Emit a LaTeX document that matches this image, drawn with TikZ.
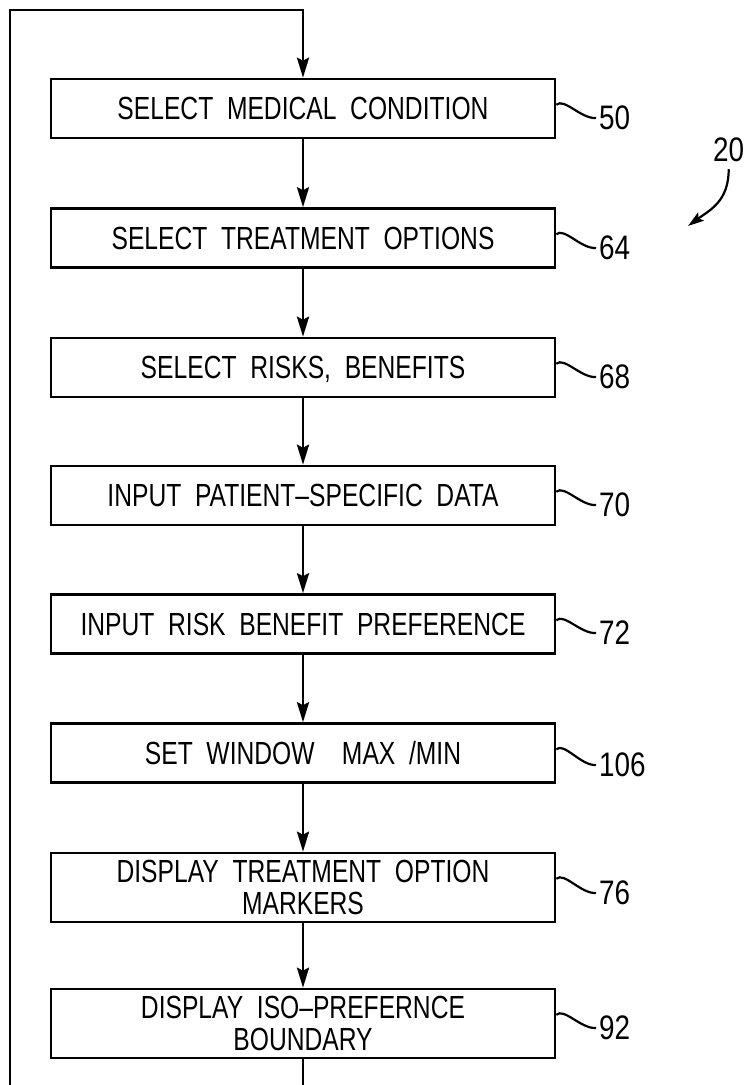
\documentclass[tikz,border=0pt]{standalone}
\usepackage{fontspec}
\usetikzlibrary{arrows.meta}
\newfontfamily\boxfont[FakeStretch=0.77,WordSpace=2]{Liberation Sans}
\newfontfamily\reffont[FakeStretch=0.82]{Liberation Sans}
\tikzset{
  stepbox/.style={draw, line width=2.6pt, minimum width=504pt, minimum height=59pt,
    inner sep=0pt, text depth=0pt, align=center,
    font=\boxfont\fontsize{32}{32}\selectfont},
  tallbox/.style={stepbox, minimum height=69pt},
  refnum/.style={anchor=west, inner sep=3pt, font=\reffont\fontsize{34}{36}\selectfont},
  flow/.style={line width=2.8pt, -{Stealth[length=20pt,width=12pt,inset=3pt]}},
  lead/.style={line width=2.2pt},
}
\begin{document}
\begin{tikzpicture}[x=1pt,y=-1pt]
	\useasboundingbox (0,0) rectangle (744,1085);

	% steps
	\node[stepbox] (condition) at (303,108.5) {SELECT MEDICAL CONDITION};
	\node[stepbox] (options) at (303,238) {SELECT TREATMENT OPTIONS};
	\node[stepbox] (risks) at (303,367.5) {SELECT RISKS, BENEFITS};
	\node[stepbox] (patient) at (303,495.5) {INPUT PATIENT–SPECIFIC DATA};
	\node[stepbox] (preference) at (303,624) {INPUT RISK BENEFIT PREFERENCE};
	\node[stepbox] (window) at (303,753) {SET WINDOW\ \ MAX /MIN};
	\node[tallbox] (markers) at (303,887.5) {DISPLAY TREATMENT OPTION\\MARKERS};
	\node[tallbox] (boundary) at (303,1023.5) {DISPLAY ISO–PREFERNCE\\BOUNDARY};

	% reference numerals
	\node[refnum] (r50) at (596,118) {50};
	\node[refnum] (r64) at (596,248) {64};
	\node[refnum] (r68) at (596,377) {68};
	\node[refnum] (r70) at (596,505) {70};
	\node[refnum] (r72) at (596,633) {72};
	\node[refnum] (r106) at (596,765) {106};
	\node[refnum] (r76) at (596,893) {76};
	\node[refnum] (r92) at (596,1028) {92};
	\node[refnum] (fig) at (710,150) {20};

	\draw[lead] ([yshift=-27pt]condition.north east) .. controls +(8,-7) and +(-15,1) .. (r50.west);
	\draw[lead] ([yshift=-27pt]options.north east) .. controls +(8,-7) and +(-15,1) .. (r64.west);
	\draw[lead] ([yshift=-27pt]risks.north east) .. controls +(8,-7) and +(-15,1) .. (r68.west);
	\draw[lead] ([yshift=-27pt]patient.north east) .. controls +(8,-7) and +(-15,1) .. (r70.west);
	\draw[lead] ([yshift=-27pt]preference.north east) .. controls +(8,-7) and +(-15,1) .. (r72.west);
	\draw[lead] ([yshift=-27pt]window.north east) .. controls +(8,-7) and +(-15,1) .. (r106.west);
	\draw[lead] ([yshift=-27pt]markers.north east) .. controls +(8,-7) and +(-15,1) .. (r76.west);
	\draw[lead] ([yshift=-27pt]boundary.north east) .. controls +(8,-7) and +(-15,1) .. (r92.west);

	\coordinate (figtip) at (688,226);
	\draw[line width=2.2pt, -{Stealth[length=16pt,width=10pt,inset=3pt]}] ([yshift=-4pt]fig.south) .. controls +(0,32) and +(22,-16) .. (figtip);

	% flow
	\draw[flow] (condition) -- (options);
	\draw[flow] (options) -- (risks);
	\draw[flow] (risks) -- (patient);
	\draw[flow] (patient) -- (preference);
	\draw[flow] (preference) -- (window);
	\draw[flow] (window) -- (markers);
	\draw[flow] (markers) -- (boundary);

	% loop back
	\coordinate (loopdown) at (303,1095);
	\coordinate (loopleft) at (10,1095);
	\coordinate (looptop) at (10,10);
	\coordinate (loopright) at (303,10);
	\draw[flow] (boundary.south) -- (loopdown) -- (loopleft) -- (looptop) -- (loopright) -- (condition.north);
\end{tikzpicture}
\end{document}
